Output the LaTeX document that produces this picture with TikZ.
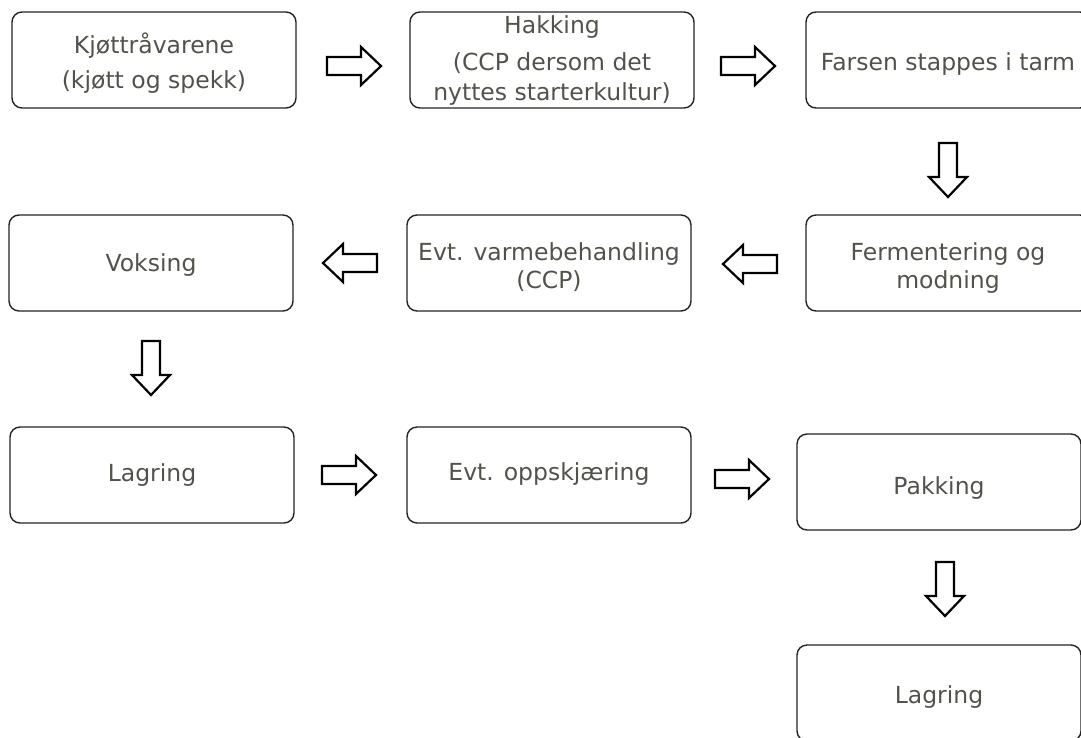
\documentclass[tikz,border=0pt]{standalone}
\usepackage{fontspec}
\setmainfont{DejaVu Sans}
\definecolor{boxline}{RGB}{35,35,35}
\definecolor{txt}{RGB}{82,82,76}
\tikzset{
  box/.style={draw=boxline, line width=1.4pt, rounded corners=10pt,
    minimum width=284pt, minimum height=96pt, inner sep=0pt},
  lbl/.style={inner sep=0pt, align=center, text=txt, font=\fontsize{23.5}{28}\selectfont},
  arrowline/.style={draw=black, line width=2.2pt, fill=white, line join=miter},
  barrow/.pic={\path[arrowline] (-27,-9) -- (7,-9) -- (7,-19) -- (27,0)
    -- (7,19) -- (7,9) -- (-27,9) -- cycle;}
}
\begin{document}
\begin{tikzpicture}[x=1pt,y=-1pt]
\useasboundingbox (0,0) rectangle (1081,737);
\clip (0,0) rectangle (1081,737);
% boxes
\node[box] (b1) at (154,60) {};
\node[box] (b2) at (552,60) {};
\node[box] (b3) at (948,60) {};
\node[box] (b4) at (151,263) {};
\node[box] (b5) at (549,263) {};
\node[box] (b6) at (948,263) {};
\node[box] (b7) at (152,475) {};
\node[box] (b8) at (549,475) {};
\node[box] (b9) at (939,482) {};
\node[box] (b10) at (939,693) {};
% texts
\node[lbl] (t1) at ([yshift=-3pt]b1.center) {Kjøttråvarene\\[7pt](kjøtt og spekk)};
\node[lbl] (t2) at ([yshift=-1pt]b2.center) {Hakking\\[9pt](CCP dersom det\\[2pt]nyttes starterkultur)};
\node[lbl] (t3) at ([yshift=-4pt]b3.center) {Farsen stappes i tarm};
\node[lbl] (t4) at ([yshift=-2pt]b4.center) {Voksing};
\node[lbl] (t5) at ([yshift=-4pt]b5.center) {Evt. varmebehandling\\(CCP)};
\node[lbl] (t6) at ([yshift=-5pt]b6.center) {Fermentering og\\modning};
\node[lbl] (t7) at (b7.center) {Lagring};
\node[lbl] (t8) at ([yshift=1pt]b8.center) {Evt. oppskjæring};
\node[lbl] (t9) at ([yshift=-6pt]b9.center) {Pakking};
\node[lbl] (t10) at ([yshift=-4pt]b10.center) {Lagring};
% block arrows
\pic at (354,66) {barrow};
\pic at (748,66) {barrow};
\pic[rotate=-90] at (948,170) {barrow};
\pic[rotate=180] at (750,264) {barrow};
\pic[rotate=180] at (350,263) {barrow};
\pic[rotate=-90] at (151,368) {barrow};
\pic at (349,475) {barrow};
\pic at (742,479) {barrow};
\pic[rotate=-90] at (945,589) {barrow};
\end{tikzpicture}
\end{document}
